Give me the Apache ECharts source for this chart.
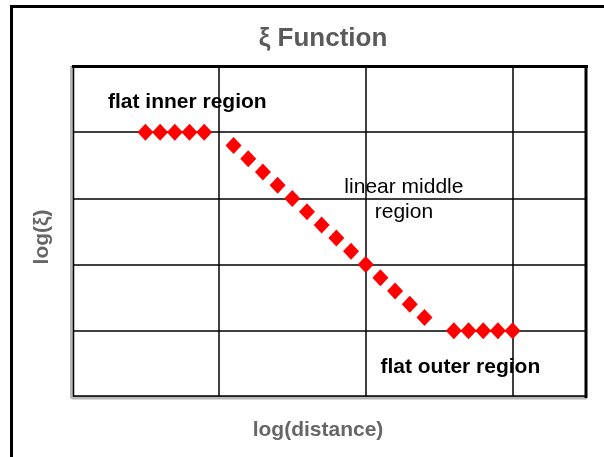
<!DOCTYPE html>
<html>
<head>
<meta charset="utf-8">
<script src="https://cdn.jsdelivr.net/npm/echarts@6/dist/echarts.min.js"></script>
<style>
  html, body { margin: 0; padding: 0; background: #fff; }
  #chart { width: 604px; height: 457px; }
</style>
</head>
<body>
<div id="chart"></div>
<script>
// data (log(distance), log(xi))
var innerX = [0.5, 0.6, 0.7, 0.8, 0.9];
var innerY = [4, 4, 4, 4, 4];
var middleX = [1.1, 1.2, 1.3, 1.4, 1.5, 1.6, 1.7, 1.8, 1.9, 2.0, 2.1, 2.2, 2.3, 2.4];
var middleY = [3.8, 3.6, 3.4, 3.2, 3.0, 2.8, 2.6, 2.4, 2.2, 2.0, 1.8, 1.6, 1.4, 1.2];
var outerX = [2.6, 2.7, 2.8, 2.9, 3.0];
var outerY = [1, 1, 1, 1, 1];

// annotation anchors in data space
var notes = [
  { text: 'flat inner region', x: 0.245, y: 4.45, bold: true, align: 'left' },
  { text: 'linear middle\nregion', x: 2.26, y: 2.98, bold: false, align: 'center' },
  { text: 'flat outer region', x: 2.10, y: 0.45, bold: true, align: 'left' }
];

function pairs(xs, ys) {
  var out = [];
  for (var i = 0; i < xs.length; i++) out.push([xs[i], ys[i]]);
  return out;
}

var allPoints = pairs(innerX, innerY).concat(pairs(middleX, middleY), pairs(outerX, outerY));

var chart = echarts.init(document.getElementById('chart'));
var font = 'Liberation Sans, Arial, sans-serif';

var option = {
  animation: false,
  backgroundColor: '#fff',
  title: {
    text: 'ξ Function',
    left: 318,
    textAlign: 'center',
    top: 21,
    textStyle: { fontFamily: font, fontSize: 26, fontWeight: 'bold', color: '#5a5a5a' }
  },
  grid: { left: 72, right: 18, top: 66, bottom: 60 },
  xAxis: {
    type: 'value', min: 0, max: 3.5, interval: 1,
    axisLine: { show: false }, axisTick: { show: false }, axisLabel: { show: false },
    splitLine: { show: true, lineStyle: { color: '#000', width: 1.5 } }
  },
  yAxis: {
    type: 'value', min: 0, max: 5, interval: 1,
    axisLine: { show: false }, axisTick: { show: false }, axisLabel: { show: false },
    splitLine: { show: true, lineStyle: { color: '#000', width: 1.5 } }
  },
  series: [{
    type: 'scatter',
    symbol: 'diamond',
    symbolSize: [16, 17],
    itemStyle: { color: '#ff0000', opacity: 1 },
    data: allPoints
  }]
};
chart.setOption(option);

// frame + bevelled plot border + annotations
var g = [];
g.push({ type: 'rect', shape: { x: 11.5, y: 6.5, width: 700, height: 600 },
  style: { fill: null, stroke: '#000', lineWidth: 3 }, z: 10 });
g.push({ type: 'line', shape: { x1: 71.5, y1: 66.5, x2: 71.5, y2: 398.5 }, style: { stroke: '#b8b8b8', lineWidth: 3 }, z: 10 });
g.push({ type: 'line', shape: { x1: 71.5, y1: 398, x2: 587, y2: 398 }, style: { stroke: '#b8b8b8', lineWidth: 3 }, z: 10 });
g.push({ type: 'line', shape: { x1: 73.5, y1: 66, x2: 73.5, y2: 396.5 }, style: { stroke: '#000', lineWidth: 1.5 }, z: 11 });
g.push({ type: 'line', shape: { x1: 73, y1: 396, x2: 586, y2: 396 }, style: { stroke: '#000', lineWidth: 1.5 }, z: 11 });
g.push({ type: 'line', shape: { x1: 72, y1: 66.5, x2: 588, y2: 66.5 }, style: { stroke: '#000', lineWidth: 3 }, z: 11 });
g.push({ type: 'line', shape: { x1: 586, y1: 65, x2: 586, y2: 398 }, style: { stroke: '#000', lineWidth: 3 }, z: 11 });

// axis names
g.push({ type: 'text', x: 318, y: 430, z: 12,
  style: { text: 'log(distance)', fill: '#666', font: 'bold 21px ' + font, align: 'center', verticalAlign: 'middle' } });
g.push({ type: 'text', x: 42, y: 237, rotation: Math.PI / 2, z: 12,
  style: { text: 'log(ξ)', fill: '#666', font: 'bold 21px ' + font, align: 'center', verticalAlign: 'middle' } });

notes.forEach(function (n) {
  var p = chart.convertToPixel({ gridIndex: 0 }, [n.x, n.y]);
  g.push({
    type: 'text', x: p[0], y: p[1], z: 12,
    style: {
      text: n.text, fill: '#000', font: (n.bold ? 'bold ' : '') + '21px ' + font,
      align: n.align, verticalAlign: 'middle', lineHeight: 25
    }
  });
});
chart.setOption({ graphic: g });
</script>
</body>
</html>
